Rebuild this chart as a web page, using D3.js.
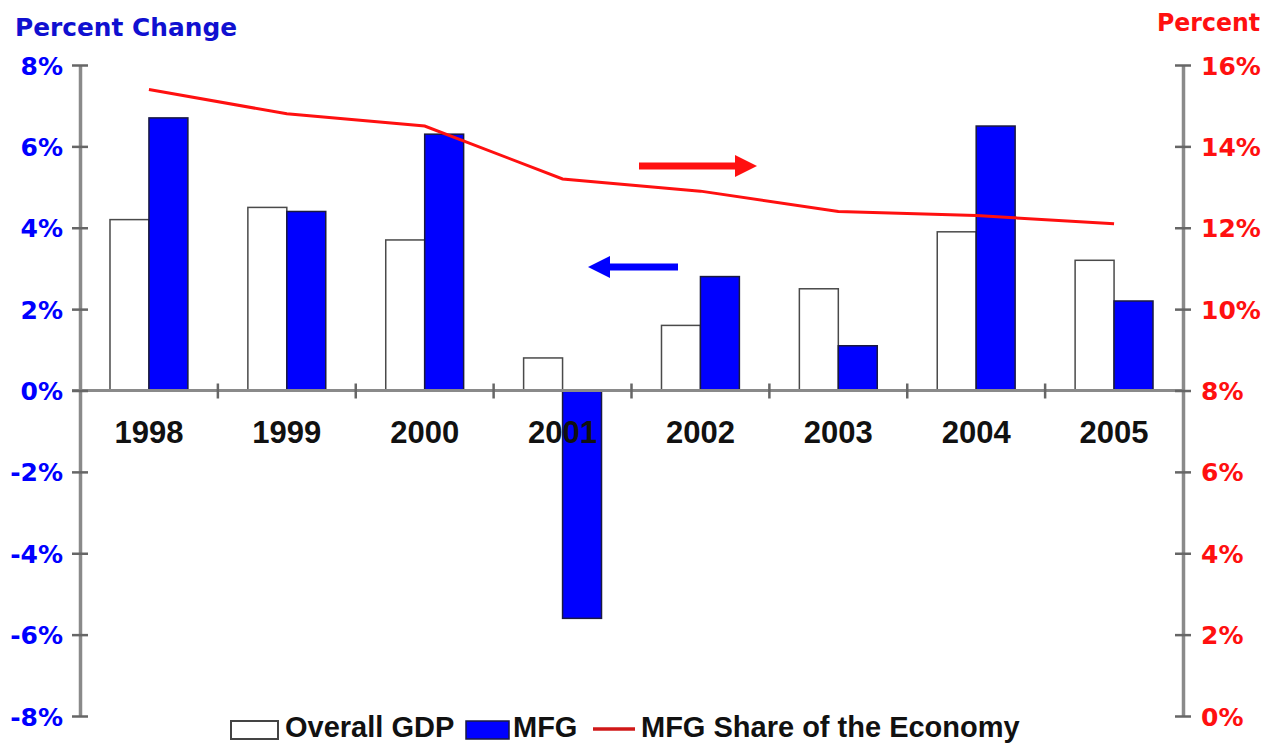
<!DOCTYPE html>
<html>
<head>
<meta charset="utf-8">
<script src="https://cdn.jsdelivr.net/npm/d3@7"></script>
<style>
  html, body { margin: 0; padding: 0; background: #fff; }
  svg { display: block; }
</style>
</head>
<body>
<svg id="chart" width="1274" height="744"></svg>
<script>
// Annual growth: overall GDP vs. manufacturing, plus manufacturing's share of the economy
const years = ["1998", "1999", "2000", "2001", "2002", "2003", "2004", "2005"];
const gdpGrowth = [4.2, 4.5, 3.7, 0.8, 1.6, 2.5, 3.9, 3.2];
const mfgGrowth = [6.7, 4.4, 6.3, -5.6, 2.8, 1.1, 6.5, 2.2];
const mfgShare = [15.4, 14.8, 14.5, 13.2, 12.9, 12.4, 12.3, 12.1];
const leftTicks = [-8, -6, -4, -2, 0, 2, 4, 6, 8];
const rightTicks = [0, 2, 4, 6, 8, 10, 12, 14, 16];
const seriesKeys = ["Overall GDP", "MFG"];

const BLUE = "#0000ff";
const RED = "#ff1010";
const AXIS_GRAY = "#8a8a8a";
const TICK_FONT = "'DejaVu Sans', Verdana, sans-serif";
const LABEL_FONT = "'Liberation Sans', Arial, Helvetica, sans-serif";

const svg = d3.select("#chart");
const plotLeft = 80, plotRight = 1183, plotTop = 65, plotBottom = 716;

const x0 = d3.scaleBand().domain(years).range([plotLeft, plotRight]).paddingInner(0).paddingOuter(0);
const x1 = d3.scaleBand().domain(seriesKeys).range([0, x0.bandwidth()]).paddingInner(0).paddingOuter(0.77);
const yL = d3.scaleLinear().domain([-8, 8]).range([plotBottom, plotTop]);
const yR = d3.scaleLinear().domain([0, 16]).range([plotBottom, plotTop]);

// Bars
const groups = svg.append("g").selectAll("g")
  .data(years.map((y, i) => ({ year: y, vals: [gdpGrowth[i], mfgGrowth[i]] })))
  .join("g")
  .attr("transform", d => `translate(${x0(d.year)},0)`);

groups.selectAll("rect")
  .data(d => d.vals.map((v, j) => ({ key: seriesKeys[j], v })))
  .join("rect")
  .attr("x", d => x1(d.key))
  .attr("width", x1.bandwidth())
  .attr("y", d => yL(Math.max(0, d.v)))
  .attr("height", d => Math.abs(yL(d.v) - yL(0)))
  .attr("fill", d => d.key === "MFG" ? BLUE : "#ffffff")
  .attr("stroke", d => d.key === "MFG" ? "#1a1a40" : "#4a4a4a")
  .attr("stroke-width", 1.5);

// Zero line with category separators
const xAxisG = svg.append("g").attr("transform", `translate(0,${yL(0)})`);
xAxisG.append("line")
  .attr("x1", plotLeft - 8).attr("x2", plotRight)
  .attr("stroke", AXIS_GRAY).attr("stroke-width", 3);
xAxisG.selectAll("line.sep")
  .data(years.slice(1))
  .join("line")
  .attr("class", "sep")
  .attr("x1", d => x0(d)).attr("x2", d => x0(d))
  .attr("y1", -7).attr("y2", 8)
  .attr("stroke", "#666").attr("stroke-width", 2.5);

// Left axis (percent change)
const axL = svg.append("g").attr("transform", `translate(${plotLeft},0)`)
  .call(d3.axisLeft(yL).tickValues(leftTicks).tickFormat(d => d + "%").tickSizeOuter(0));
axL.select(".domain").attr("stroke", AXIS_GRAY).attr("stroke-width", 3.5);
axL.selectAll(".tick line").attr("x1", -8).attr("x2", 8).attr("stroke", "#666").attr("stroke-width", 2.5);
axL.selectAll(".tick text")
  .attr("x", -17).attr("dy", "0.36em")
  .attr("fill", BLUE).attr("font-family", TICK_FONT).attr("font-weight", "bold").attr("font-size", 25);

// Right axis (share of economy)
const axR = svg.append("g").attr("transform", `translate(${plotRight},0)`)
  .call(d3.axisRight(yR).tickValues(rightTicks).tickFormat(d => d + "%").tickSizeOuter(0));
axR.select(".domain").attr("stroke", AXIS_GRAY).attr("stroke-width", 3.5);
axR.selectAll(".tick line").attr("x1", -8).attr("x2", 8).attr("stroke", "#666").attr("stroke-width", 2.5);
axR.selectAll(".tick text")
  .attr("x", 18).attr("dy", "0.36em")
  .attr("fill", RED).attr("font-family", TICK_FONT).attr("font-weight", "bold").attr("font-size", 25);

// Share line
const line = d3.line()
  .x((d, i) => x0(years[i]) + x0.bandwidth() / 2)
  .y(d => yR(d));
svg.append("path")
  .datum(mfgShare)
  .attr("d", line)
  .attr("fill", "none")
  .attr("stroke", RED)
  .attr("stroke-width", 3);

// Year labels
svg.append("g").selectAll("text")
  .data(years)
  .join("text")
  .attr("x", d => x0(d) + x0.bandwidth() / 2)
  .attr("y", 443)
  .attr("text-anchor", "middle")
  .attr("font-family", LABEL_FONT).attr("font-weight", "bold").attr("font-size", 31)
  .attr("fill", "#111")
  .text(d => d);

// Axis titles
svg.append("text").attr("x", 15).attr("y", 36)
  .attr("textLength", 222).attr("lengthAdjust", "spacingAndGlyphs")
  .attr("font-family", TICK_FONT).attr("font-weight", "bold").attr("font-size", 24)
  .attr("fill", "#1010d0").text("Percent Change");
svg.append("text").attr("x", 1157).attr("y", 31)
  .attr("textLength", 103).attr("lengthAdjust", "spacingAndGlyphs")
  .attr("font-family", TICK_FONT).attr("font-weight", "bold").attr("font-size", 24)
  .attr("fill", RED).text("Percent");

// Direction arrows pointing to each series' axis
function arrow(xa, xb, y, color) {
  const dir = Math.sign(xb - xa);
  const headLen = 22, headHalf = 11, shaft = 7;
  const xh = xb - dir * headLen;
  svg.append("line")
    .attr("x1", xa).attr("x2", xh).attr("y1", y).attr("y2", y)
    .attr("stroke", color).attr("stroke-width", shaft);
  svg.append("path")
    .attr("d", `M${xb},${y} L${xh},${y - headHalf} L${xh},${y + headHalf} Z`)
    .attr("fill", color);
}
arrow(639, 757, 166, RED);
arrow(678, 588, 267, BLUE);

// Legend
const lg = svg.append("g");
const legendY = 729;
lg.append("rect").attr("x", 231).attr("y", 721).attr("width", 47).attr("height", 18)
  .attr("fill", "#fff").attr("stroke", "#444").attr("stroke-width", 2);
lg.append("rect").attr("x", 466).attr("y", 721).attr("width", 43).attr("height", 18)
  .attr("fill", BLUE).attr("stroke", "#1a1a40").attr("stroke-width", 1.5);
lg.append("line").attr("x1", 593).attr("x2", 635).attr("y1", legendY).attr("y2", legendY)
  .attr("stroke", "#d01818").attr("stroke-width", 3.5);
const legendItems = [
  { text: "Overall GDP", x: 285 },
  { text: "MFG", x: 513 },
  { text: "MFG Share of the Economy", x: 641 }
];
lg.selectAll("text.lt").data(legendItems).join("text")
  .attr("class", "lt")
  .attr("x", d => d.x).attr("y", 737)
  .attr("font-family", LABEL_FONT).attr("font-weight", "bold").attr("font-size", 29)
  .attr("fill", "#111")
  .text(d => d.text);
</script>
</body>
</html>
